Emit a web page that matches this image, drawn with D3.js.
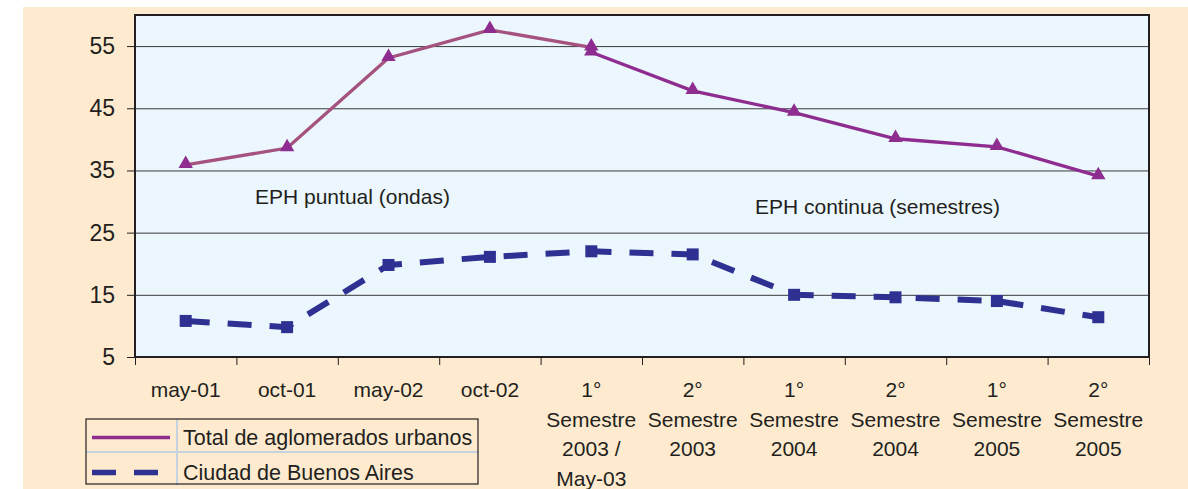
<!DOCTYPE html>
<html>
<head>
  <meta charset="utf-8">
  <title>EPH</title>
  <style>
    body { margin: 0; background: #fff; }
    text { font-family: "Liberation Sans", Arial, sans-serif; fill: #231f20; }
    .grid line { stroke: #3a3a3a; stroke-width: 1; }
    .grid path { display: none; }
    .yaxis path, .xaxis path { display: none; }
    .yaxis line, .xaxis line { stroke: #231f20; stroke-width: 1; }
  </style>
  <script src="https://d3js.org/d3.v7.min.js"></script>
</head>
<body>
  <script>
    // categories, one array of lines per tick label
    var categories = [
      ["may-01"], ["oct-01"], ["may-02"], ["oct-02"],
      ["1°", "Semestre", "2003 /", "May-03"],
      ["2°", "Semestre", "2003"],
      ["1°", "Semestre", "2004"],
      ["2°", "Semestre", "2004"],
      ["1°", "Semestre", "2005"],
      ["2°", "Semestre", "2005"]
    ];
    var totalPuntual = [35.9, 38.6, 53.1, 57.6, 54.8, null, null, null, null, null];
    var totalContinua = [null, null, null, null, 54.0, 47.8, 44.3, 40.1, 38.8, 34.1];
    var caba = [10.8, 9.8, 19.8, 21.1, 22.0, 21.5, 15.0, 14.6, 14.0, 11.4];
    var yTicks = [5, 15, 25, 35, 45, 55];
    var legendLabels = ["Total de aglomerados urbanos", "Ciudad de Buenos Aires"];
    var notes = ["EPH puntual (ondas)", "EPH continua (semestres)"];

    var W = 1188, H = 489;
    var plot = {left: 135, top: 15, right: 1149, bottom: 357};

    var svg = d3.select('body').append('svg')
      .attr('width', W).attr('height', H);

    svg.append('rect')
      .attr('x', 23).attr('y', 7)
      .attr('width', W - 23).attr('height', H - 7)
      .attr('fill', '#feebcf');

    svg.append('rect')
      .attr('x', plot.left).attr('y', plot.top)
      .attr('width', plot.right - plot.left).attr('height', plot.bottom - plot.top)
      .attr('fill', '#ebf6fd');

    var idx = d3.range(categories.length);
    var x = d3.scaleBand().domain(idx).range([plot.left, plot.right]).padding(0);
    var xc = function(i) { return x(i) + x.bandwidth() / 2; };
    var xEdge = d3.scaleLinear().domain([0, categories.length]).range([plot.left, plot.right]);
    var y = d3.scaleLinear().domain([5, 60]).range([plot.bottom, plot.top]);

    // gridlines
    svg.append('g')
      .attr('class', 'grid')
      .attr('transform', 'translate(' + plot.left + ',0)')
      .call(d3.axisLeft(y).tickValues(yTicks.slice(1)).tickSize(-(plot.right - plot.left)).tickFormat(''));

    // y axis
    svg.append('g')
      .attr('class', 'yaxis')
      .attr('transform', 'translate(' + plot.left + ',0)')
      .call(d3.axisLeft(y).tickValues(yTicks).tickSize(8).tickPadding(12))
      .selectAll('text')
        .style('font-size', '23px');

    // x axis ticks at band edges
    svg.append('g')
      .attr('class', 'xaxis')
      .attr('transform', 'translate(0,' + plot.bottom + ')')
      .call(d3.axisBottom(xEdge).tickValues(d3.range(categories.length + 1)).tickSize(8).tickFormat(''));

    // x labels
    var lab = svg.append('g').selectAll('text')
      .data(categories)
      .enter().append('text')
        .attr('text-anchor', 'middle')
        .style('font-size', '21px');
    lab.selectAll('tspan')
      .data(function(d, i) { return d.map(function(s) { return {s: s, i: i}; }); })
      .enter().append('tspan')
        .attr('x', function(d) { return xc(d.i); })
        .attr('y', function(d, j) { return 397 + j * 29.7; })
        .text(function(d) { return d.s; });

    // plot border
    svg.append('rect')
      .attr('x', plot.left).attr('y', plot.top)
      .attr('width', plot.right - plot.left).attr('height', plot.bottom - plot.top)
      .attr('fill', 'none').attr('stroke', '#231f20').attr('stroke-width', 2);

    // annotations
    svg.append('text').attr('x', 255).attr('y', 204).style('font-size', '21px').text(notes[0]);
    svg.append('text').attr('x', 755).attr('y', 214).style('font-size', '21px').text(notes[1]);

    function seriesLine(vals) {
      return d3.line()
        .defined(function(d) { return d != null; })
        .x(function(d, i) { return xc(i); })
        .y(function(d) { return y(d); })(vals);
    }

    // CABA dashed line
    svg.append('path')
      .attr('d', seriesLine(caba))
      .attr('fill', 'none')
      .attr('stroke', '#2e3192')
      .attr('stroke-width', 6)
      .attr('stroke-dasharray', '24,18');

    svg.append('g').selectAll('rect')
      .data(caba)
      .enter().append('rect')
        .attr('x', function(d, i) { return xc(i) - 6; })
        .attr('y', function(d) { return y(d) - 6; })
        .attr('width', 12).attr('height', 12)
        .attr('fill', '#2e3192');

    // total lines
    svg.append('path')
      .attr('d', seriesLine(totalPuntual))
      .attr('fill', 'none')
      .attr('stroke', '#a5527f')
      .attr('stroke-width', 3.3);

    svg.append('path')
      .attr('d', seriesLine(totalContinua))
      .attr('fill', 'none')
      .attr('stroke', '#8e2c8f')
      .attr('stroke-width', 3.3);

    var tri = d3.symbol().type(d3.symbolTriangle).size(90);
    [totalPuntual, totalContinua].forEach(function(vals) {
      svg.append('g').selectAll('path')
        .data(vals.map(function(v, i) { return {v: v, i: i}; }).filter(function(d) { return d.v != null; }))
        .enter().append('path')
          .attr('d', tri)
          .attr('transform', function(d) { return 'translate(' + xc(d.i) + ',' + (y(d.v) - 1) + ')'; })
          .attr('fill', '#8e2c8f');
    });

    // legend
    var lg = svg.append('g');
    var lx = 86, ly = 419, lw = 392, rowH = 33;
    lg.append('line').attr('x1', lx).attr('x2', lx + lw).attr('y1', ly + rowH).attr('y2', ly + rowH)
      .attr('stroke', '#c5d3e0').attr('stroke-width', 2);
    lg.append('line').attr('x1', 177).attr('x2', 177).attr('y1', ly).attr('y2', ly + 2 * rowH)
      .attr('stroke', '#c5d3e0').attr('stroke-width', 2);
    lg.append('rect').attr('x', lx).attr('y', ly).attr('width', lw).attr('height', 2 * rowH - 1)
      .attr('fill', 'none').attr('stroke', '#231f20').attr('stroke-width', 1.2);
    lg.append('line').attr('x1', 92).attr('x2', 170).attr('y1', 437.5).attr('y2', 437.5)
      .attr('stroke', '#8e2c8f').attr('stroke-width', 3.3);
    lg.append('line').attr('x1', 92).attr('x2', 160).attr('y1', 472.5).attr('y2', 472.5)
      .attr('stroke', '#2e3192').attr('stroke-width', 5.5).attr('stroke-dasharray', '24,18');
    lg.selectAll('text.lt')
      .data(legendLabels)
      .enter().append('text')
        .attr('x', 183)
        .attr('y', function(d, i) { return 445 + i * 35; })
        .style('font-size', '21.5px')
        .text(function(d) { return d; });
  </script>
</body>
</html>
